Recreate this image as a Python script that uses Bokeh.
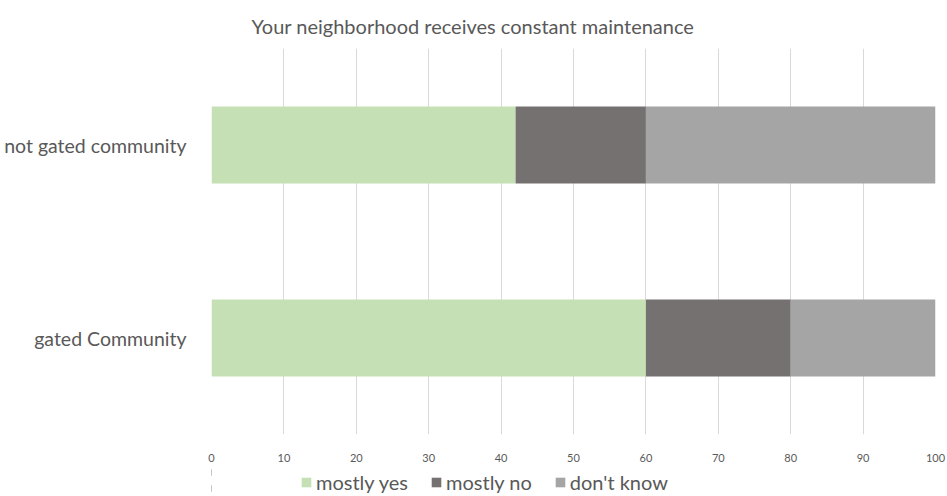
from bokeh.plotting import figure
from bokeh.layouts import column
from bokeh.models import FactorRange, Range1d, Legend, LegendItem, FixedTicker
from bokeh.embed import file_html
from bokeh.resources import INLINE

groups = ["gated Community", "not gated community"]
series = ["mostly yes", "mostly no", "don't know"]
mostly_yes = [60, 42]
mostly_no = [20, 18]
dont_know = [20, 40]
x_ticks = [0, 10, 20, 30, 40, 50, 60, 70, 80, 90, 100]
colors = ["#C5E0B4", "#767171", "#A5A5A5"]
title_text = "Your neighborhood receives constant maintenance"

FONT = "Lato"
TXT = "#595959"

data = {"group": groups, "yes": mostly_yes, "no": mostly_no, "dk": dont_know}
keys = ["yes", "no", "dk"]

p = figure(width=947, height=464, output_backend="svg", toolbar_location=None,
           y_range=FactorRange(factors=groups, range_padding=0),
           x_range=Range1d(0, 100),
           min_border_left=211, min_border_right=12, min_border_top=48, min_border_bottom=30)

renderers = p.hbar_stack(keys, y="group", height=0.4, color=colors, source=data, line_width=0)

p.outline_line_color = None
p.ygrid.grid_line_color = None
p.xgrid.grid_line_color = "#D9D9D9"
p.xgrid.grid_line_width = 1
p.xaxis.ticker = FixedTicker(ticks=x_ticks)
for ax in (p.xaxis[0], p.yaxis[0]):
    ax.axis_line_color = None
    ax.major_tick_line_color = None
    ax.minor_tick_line_color = None
    ax.major_label_text_color = TXT
    ax.major_label_text_font = FONT
p.xaxis.major_label_text_font_size = "11px"
p.xaxis.major_label_standoff = 13
p.yaxis.major_label_text_font_size = "19.5px"
p.yaxis.major_label_standoff = 19

p.title.text = title_text
p.title.align = "left"
p.title.offset = 40
p.title.standoff = 21
p.title.text_font = FONT
p.title.text_font_size = "20px"
p.title.text_color = TXT
p.title.text_font_style = "normal"

# legend strip below the chart (same stacked bars, drawn outside its visible x range)
lg = figure(width=947, height=32, output_backend="svg", toolbar_location=None,
            x_range=Range1d(200, 300), y_range=FactorRange(factors=groups),
            min_border_left=0, min_border_right=0, min_border_top=0, min_border_bottom=0)
lg.axis.visible = False
lg.grid.visible = False
lg.outline_line_color = None
proxies = lg.hbar_stack(keys, y="group", height=0.4, color=colors, source=data, line_width=0)
legend = Legend(items=[LegendItem(label=s, renderers=[r]) for s, r in zip(series, proxies)],
                orientation="horizontal", location=(89, 2),
                label_text_font=FONT, label_text_font_size="20px", label_text_color=TXT,
                label_height=20, glyph_width=12, glyph_height=12, label_standoff=4, spacing=22,
                padding=0, margin=0, border_line_color=None, background_fill_alpha=0)
lg.add_layout(legend, "center")

layout = column(p, lg, spacing=0)
open("out.html", "w").write(file_html(layout, INLINE))
